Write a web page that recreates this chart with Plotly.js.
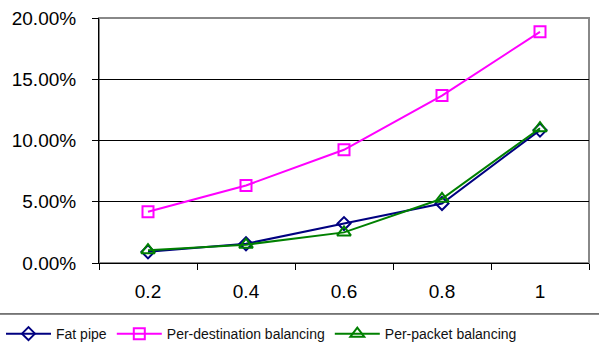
<!DOCTYPE html>
<html>
<head>
<meta charset="utf-8">
<script src="https://cdn.plot.ly/plotly-3.0.1.min.js"></script>
<style>
  html, body { margin: 0; padding: 0; background: #fff; }
  #chart { width: 599px; height: 353px; }
</style>
</head>
<body>
<div id="chart"></div>
<script>
// Load levels on the x axis
const categories = ['0.2', '0.4', '0.6', '0.8', '1'];

// Loss ratios per scheme (fractions, shown as percentages)
const fatPipe        = [0.0091, 0.0157, 0.0322, 0.0486, 0.1085];
const perDestination = [0.0418, 0.0633, 0.0924, 0.1367, 0.1887];
const perPacket      = [0.0105, 0.0150, 0.0250, 0.0524, 0.1100];

const yTicks = [0, 0.05, 0.10, 0.15, 0.20];

const font = 'Liberation Sans, Arial, sans-serif';

const traces = [
  {
    name: 'Fat pipe', x: categories, y: fatPipe, type: 'scatter', mode: 'lines+markers',
    line: { color: '#000080', width: 2 },
    marker: { symbol: 'diamond-open', size: 10, color: '#000080', line: { width: 2, color: '#000080' } }
  },
  {
    name: 'Per-destination balancing', x: categories, y: perDestination, type: 'scatter', mode: 'lines+markers',
    line: { color: '#FF00FF', width: 2 },
    marker: { symbol: 'square-open', size: 11, color: '#FF00FF', line: { width: 2, color: '#FF00FF' } }
  },
  {
    name: 'Per-packet balancing', x: categories, y: perPacket, type: 'scatter', mode: 'lines+markers',
    line: { color: '#008000', width: 2 },
    marker: { symbol: 'triangle-up-open', size: 12, color: '#008000', line: { width: 2, color: '#008000' } }
  }
];

const layout = {
  width: 599, height: 353,
  margin: { l: 99, r: 10, t: 18, b: 90, autoexpand: false },
  paper_bgcolor: '#fff', plot_bgcolor: '#fff',
  font: { family: font, color: '#000' },
  showlegend: true,
  xaxis: {
    type: 'category',
    range: [-0.5, 4.5],
    tickson: 'boundaries',
    ticks: 'outside', ticklen: 6, tickcolor: '#000', tickwidth: 1,
    showline: true, linecolor: '#000', linewidth: 1,
    showgrid: false, zeroline: false,
    tickfont: { family: font, size: 19, color: '#000' },
    ticklabelstandoff: 11
  },
  yaxis: {
    range: [0, 0.20],
    tickvals: yTicks,
    tickformat: '.2%',
    ticks: 'outside', ticklen: 6, tickcolor: '#000', tickwidth: 1,
    showline: true, linecolor: '#000', linewidth: 1,
    showgrid: true, gridcolor: '#000', gridwidth: 1,
    zeroline: false,
    tickfont: { family: font, size: 19, color: '#000' },
    ticklabelstandoff: 12
  },
  legend: {
    orientation: 'h',
    x: -0.2, xanchor: 'left',
    y: -0.29, yanchor: 'middle',
    font: { family: font, size: 14, color: '#111' },
    bgcolor: 'rgba(0,0,0,0)',
    itemwidth: 45
  },
  shapes: [
    {
      type: 'rect', xref: 'paper', yref: 'paper', x0: 0, x1: 1, y0: 0, y1: 1,
      line: { color: '#888', width: 2 }, layer: 'below'
    },
    {
      type: 'line', xref: 'paper', yref: 'paper', x0: -0.25, x1: 1.1, y0: -0.208, y1: -0.208,
      line: { color: '#000', width: 1 }
    }
  ]
};

Plotly.newPlot('chart', traces, layout, { displayModeBar: false, staticPlot: true });
</script>
</body>
</html>
